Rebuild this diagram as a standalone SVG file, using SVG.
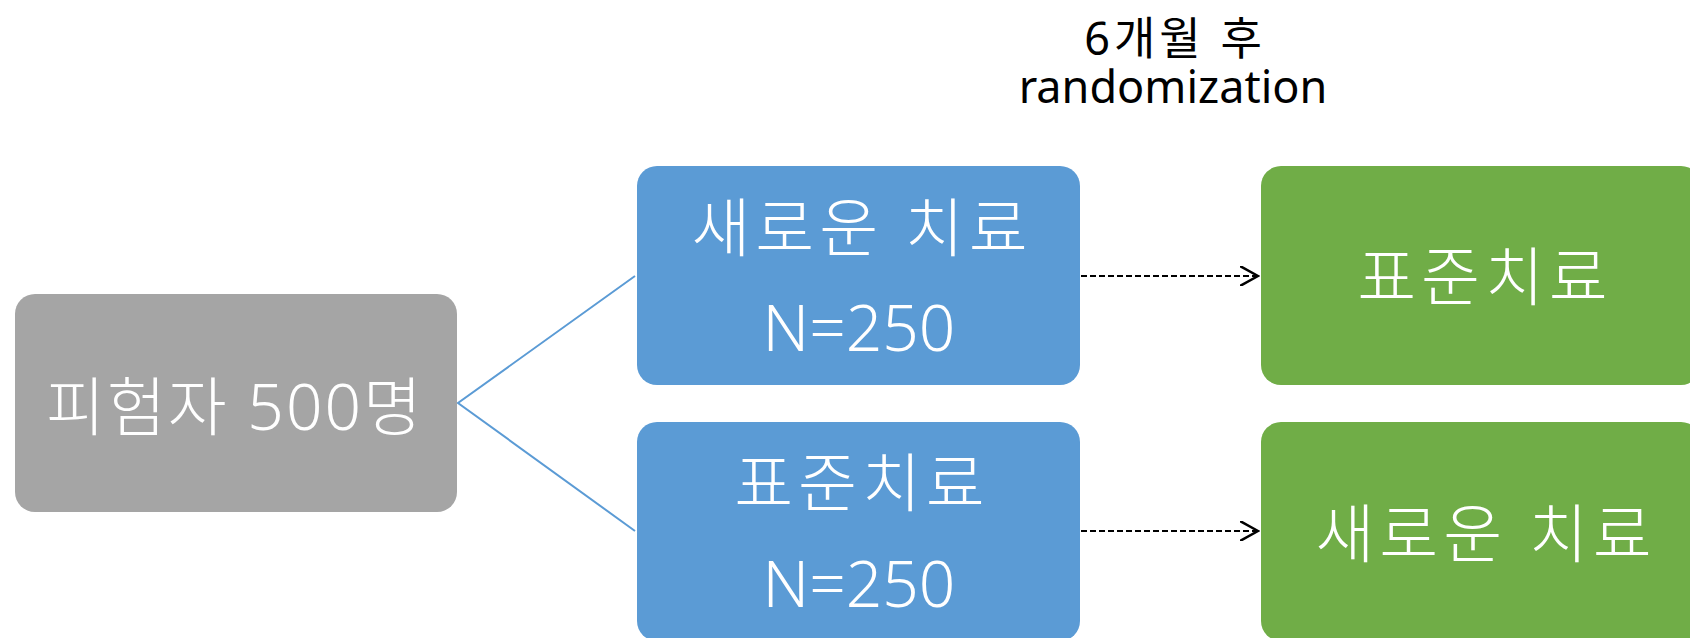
<svg xmlns="http://www.w3.org/2000/svg" width="1690" height="638" viewBox="0 0 1690 638">
<style>
  .t { font-family: "Noto Sans", "Noto Sans CJK KR", sans-serif; fill: #ffffff; font-size: 64px; font-weight: 300; text-anchor: middle; }
  .ko { letter-spacing: 5px; }
  .title { font-family: "Noto Sans", "Noto Sans CJK KR", sans-serif; fill: #000000; font-size: 45px; text-anchor: middle; }
  .gray { fill: #A5A5A5; }
  .blue { fill: #5B9BD5; }
  .green { fill: #70AD47; }
  .split { stroke: #5B9BD5; stroke-width: 2; fill: none; }
  .dash { stroke: #000000; stroke-width: 2; stroke-dasharray: 6 3; fill: none; }
</style>
<defs>
  <marker id="open" markerWidth="20" markerHeight="20" refX="18" refY="10" orient="auto" markerUnits="userSpaceOnUse">
    <path d="M0,0 L18,10 L0,20" fill="none" stroke="#000000" stroke-width="2.5"/>
  </marker>
</defs>
<rect width="1690" height="638" fill="#ffffff"/>
<g id="title">
  <text class="title"><tspan x="1175" y="55" style="letter-spacing:4px">6개월 후</tspan><tspan x="1173" y="103">randomization</tspan></text>
</g>
<g id="connectors">
  <polyline class="split" points="635,276 458,403 635,531"/>
  <line class="dash" x1="1081" y1="276" x2="1258" y2="276" marker-end="url(#open)"/>
  <line class="dash" x1="1081" y1="531" x2="1258" y2="531" marker-end="url(#open)"/>
</g>
<g id="node-subjects">
  <rect class="gray" x="15" y="294" width="442" height="218" rx="20"/>
  <text class="t" x="235" y="430" style="letter-spacing:2px">피험자 500명</text>
</g>
<g id="node-new-treatment">
  <rect class="blue" x="637" y="166" width="443" height="219" rx="20"/>
  <text class="t ko" x="862" y="251">새로운 치료</text>
  <text class="t" x="859" y="351">N=250</text>
</g>
<g id="node-standard-treatment">
  <rect class="blue" x="637" y="422" width="443" height="219" rx="20"/>
  <text class="t ko" x="862" y="506">표준치료</text>
  <text class="t" x="859" y="607">N=250</text>
</g>
<g id="node-switch-standard">
  <rect class="green" x="1261" y="166" width="440" height="219" rx="20"/>
  <text class="t ko" x="1485" y="300">표준치료</text>
</g>
<g id="node-switch-new">
  <rect class="green" x="1261" y="422" width="440" height="219" rx="20"/>
  <text class="t ko" x="1486" y="557">새로운 치료</text>
</g>
</svg>
